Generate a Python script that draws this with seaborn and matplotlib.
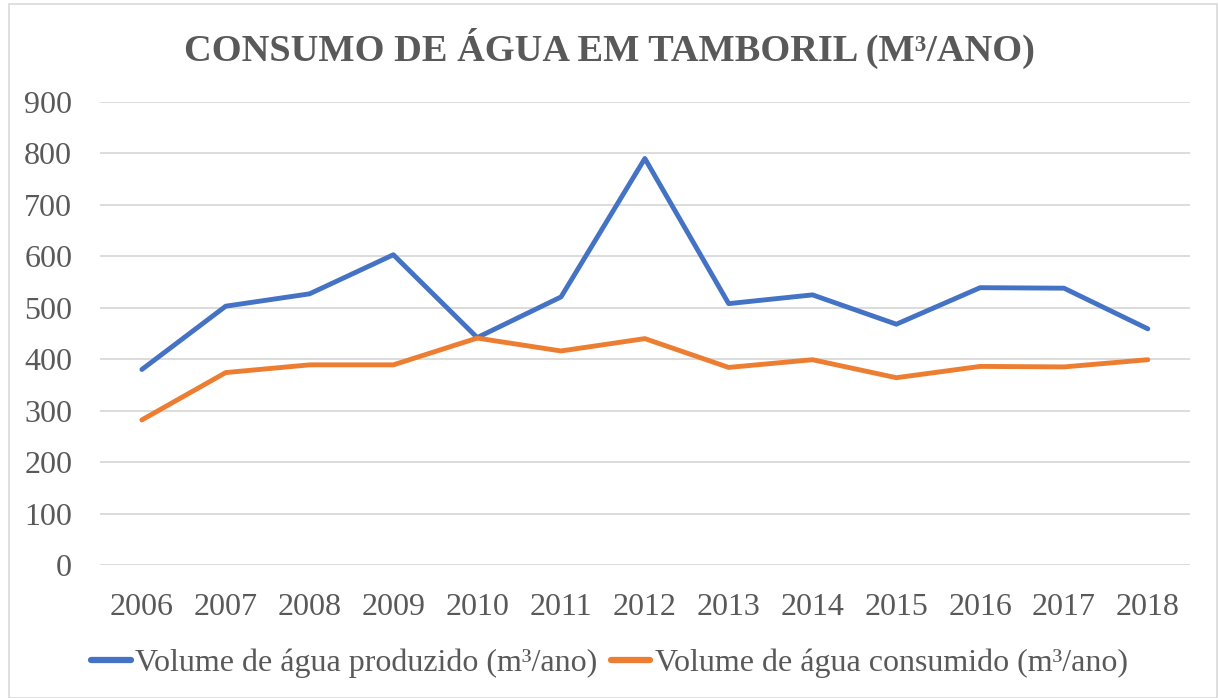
import matplotlib.pyplot as plt
import matplotlib.patches as patches
import pandas as pd
import seaborn as sns

years = ['2006', '2007', '2008', '2009', '2010', '2011', '2012',
         '2013', '2014', '2015', '2016', '2017', '2018']
produzido = [380, 503, 527, 603, 442, 521, 790, 508, 525, 468, 539, 538, 459]
consumido = [282, 374, 389, 389, 441, 416, 440, 384, 399, 364, 386, 385, 399]
series_names = ['Volume de água produzido (m³/ano)', 'Volume de água consumido (m³/ano)']

df = pd.DataFrame({
    'ano': years * 2,
    'volume': produzido + consumido,
    'serie': [series_names[0]] * len(years) + [series_names[1]] * len(years),
})

sns.set_style('white')
plt.rcParams['font.family'] = ['Liberation Serif', 'DejaVu Serif']
gray = '#595959'

fig = plt.figure(figsize=(12.19, 6.98), dpi=100)
ax = fig.add_axes([0.082, 0.1905, 0.894, 0.6635])

sns.lineplot(data=df, x='ano', y='volume', hue='serie', sort=False,
             palette=['#4472C4', '#ED7D31'], linewidth=3.5, ax=ax)

ax.set_ylim(0, 900)
ax.set_xlim(-0.5, len(years) - 0.5)
ax.set_yticks(range(0, 901, 100))
ax.yaxis.grid(True, color='#D9D9D9', linewidth=1.3)
ax.set_axisbelow(True)
for s in ax.spines.values():
    s.set_visible(False)
ax.tick_params(axis='both', length=0, labelsize=23, labelcolor=gray)
ax.tick_params(axis='x', pad=20)
ax.tick_params(axis='y', pad=20)
ax.set_xlabel('')
ax.set_ylabel('')

fig.text(0.5, 0.93, 'CONSUMO DE ÁGUA EM TAMBORIL (M³/ANO)', ha='center', va='center',
         fontsize=27.6, fontweight='bold', color=gray)

handles, labels = ax.get_legend_handles_labels()
for h in handles:
    h.set_linewidth(4.5)
ax.legend(handles, labels, loc='center', bbox_to_anchor=(0.5, 0.05),
          bbox_transform=fig.transFigure, ncol=2, frameon=False,
          fontsize=23, labelcolor=gray, handlelength=1.25, handletextpad=0.15,
          columnspacing=0.4)

fig.patches.append(patches.Rectangle((0.007, 0.0), 0.991, 0.994, transform=fig.transFigure,
                                     fill=False, edgecolor='#D9D9D9', linewidth=1.2))

fig.savefig('out.png', dpi=100)
